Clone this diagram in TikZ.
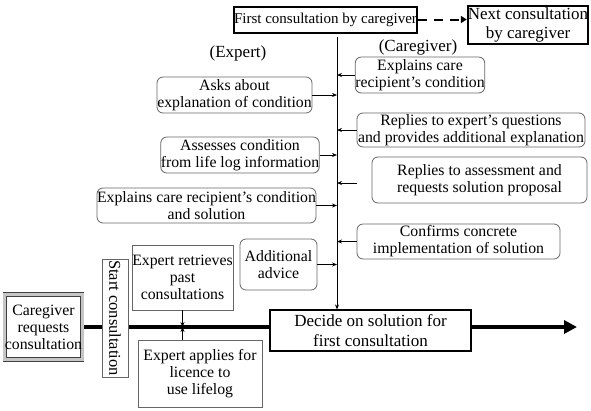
\documentclass[tikz,border=0pt]{standalone}
\usepackage{fontspec}
\setmainfont{Liberation Serif}
\usetikzlibrary{positioning,arrows.meta,backgrounds}

\begin{document}
\begin{tikzpicture}[x=1pt, y=-1pt,
		actbox/.style={draw=black!60, fill=white, rectangle, rounded corners=6pt, line width=0.8pt,
				inner sep=0pt, align=center, font=\fontsize{15.8}{17}\selectfont},
		stepbox/.style={draw=black!60, fill=white, rectangle, line width=0.8pt,
				inner sep=0pt, align=center, font=\fontsize{15.8}{17}\selectfont},
		headbox/.style={draw=black, fill=white, rectangle, line width=2pt,
				inner sep=0pt, align=center},
		role/.style={font=\fontsize{17}{19}\selectfont},
		ar/.style={-{Stealth[length=5pt,width=4pt]}, line width=0.7pt},
	]
	\useasboundingbox (0,0) rectangle (591,410);
	\node[headbox, minimum width=183, minimum height=26, font=\fontsize{15}{17}\selectfont] (first) at (325.5, 19.5) {First consultation by caregiver};
	\node[headbox, minimum width=120, minimum height=38, font=\fontsize{17}{19}\selectfont] (next) at (528, 25) {Next consultation\\by caregiver};
	\draw[line width=2pt, dash pattern=on 9pt off 7pt, -{Triangle[length=6pt,width=7pt]}] (first.east) -- (first.east -| next.west);
	\node[role] (lexp) at (238, 53) {(Expert)};
	\node[role] (lcg)  at (418, 47) {(Caregiver)};
	\coordinate (tl) at (337, 37);
	% caregiver side
	\node[actbox, minimum width=126, minimum height=36] (ec)   at (420, 75)    {Explains care\\recipient's condition};
	\node[actbox, minimum width=228, minimum height=34] (rq)   at (471, 130)   {Replies to expert's questions\\and provides additional explanation};
	\node[actbox, minimum width=215, minimum height=46] (rs)   at (479.5, 180) {Replies to assessment and\\requests solution proposal};
	\node[actbox, minimum width=203, minimum height=35] (conf) at (458.5, 241.5) {Confirms concrete\\implementation of solution};
	% expert side
	\node[actbox, minimum width=155, minimum height=36] (ask)  at (234.5, 95)  {Asks about\\explanation of condition};
	\node[actbox, minimum width=146, minimum height=36] (as)   at (240, 155)   {Assesses condition\\from life log information};
	\node[actbox, minimum width=219, minimum height=35] (ecs)  at (206.5, 205.5) {Explains care recipient's condition\\and solution};
	\node[actbox, minimum width=77, minimum height=51]  (add)  at (278.5, 264.5) {Additional\\advice};
	\coordinate (rsfree) at (357, 183);
	\draw[ar] (ec.west)   -- (ec.west -| tl);
	\draw[ar] (rq.west)   -- (rq.west -| tl);
	\draw[ar] (rsfree)    -- (rsfree -| tl);
	\draw[ar] (conf.west) -- (conf.west -| tl);
	\draw[ar] (ask.east)  -- (ask.east -| tl);
	\draw[ar] (as.east)   -- (as.east -| tl);
	\draw[ar] (ecs.east)  -- (ecs.east -| tl);
	\draw[ar] (add.east)  -- (add.east -| tl);
	% main time line
	\node[draw=black!75, double=gray!45, double distance=3pt, line width=0.8pt, fill=white,
		minimum width=72, minimum height=65, inner sep=0pt, align=center,
		font=\fontsize{15.8}{17}\selectfont] (crq) at (43.5, 327) {Caregiver\\requests\\consultation};
	\node[stepbox, rotate=-90, minimum width=118, minimum height=26, font=\fontsize{16.5}{18}\selectfont] (start) at (115, 318) {Start consultation};
	\node[stepbox, minimum width=101, minimum height=65] (ret) at (182.5, 277.5) {Expert retrieves\\past\\consultations};
	\node[stepbox, minimum width=124, minimum height=67] (app) at (200, 373.5) {Expert applies for\\licence to\\use lifelog};
	\node[draw=black, fill=white, line width=1.2pt, minimum width=201, minimum height=41, inner sep=0pt,
		align=center, font=\fontsize{17}{20}\selectfont] (dec) at (370.5, 330.5) {Decide on solution for\\first consultation};
	\coordinate (end) at (577, 327);
	\begin{scope}[on background layer]
		\draw[line width=3.5pt, -{Triangle[length=13pt,width=13pt]}] (crq.east) -- (end);
	\end{scope}
	\draw[ar] (tl) -- (tl |- dec.north);
	\draw[ar] (ret.south) -- (ret.south |- crq.east);
	\draw[ar] (ret.south |- app.north) -- (ret.south |- crq.east);
\end{tikzpicture}
\end{document}
